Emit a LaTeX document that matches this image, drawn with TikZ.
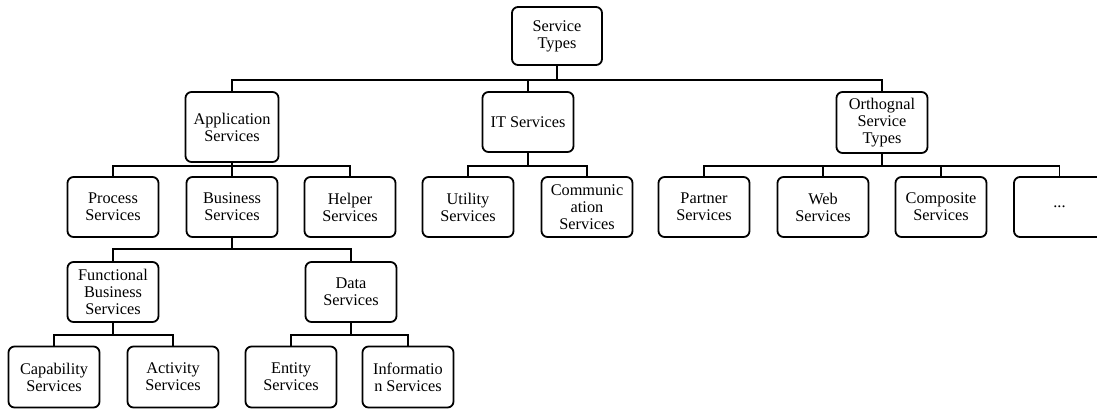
\documentclass[tikz,border=0pt]{standalone}
\usepackage{fontspec}
\setmainfont{Liberation Serif}
\usetikzlibrary{calc}
\tikzset{
         svcbox/.style=
          {
           draw=black,
           line width=1.8pt,
           rounded corners=6pt,
           minimum width=91pt,
           minimum height=60pt,
           inner sep=0pt,
           align=center,
           font=\fontsize{16.3}{17}\selectfont
          },
         wire/.style={line width=1.8pt}
        }

\begin{document}
\begin{tikzpicture}[x=1pt,y=-1pt]
      \useasboundingbox (0,0) rectangle (1097,410); % page size
      \coordinate (b0) at (0,80);  % bus under root
      \coordinate (b1) at (0,166); % bus under second row
      \coordinate (b2) at (0,249); % bus under business services
      \coordinate (b3) at (0,335); % bus under third row

%%% top of the tree
      \node[svcbox,minimum width=90pt,minimum height=58pt] (root) at (557,36) {Service\\Types}; % root
      \node[svcbox,minimum width=93pt,minimum height=70pt] (app) at (232,127) {Application\\Services}; % application
      \node[svcbox] (it) at (528,122) {IT Services}; % IT
      \node[svcbox,minimum height=61pt] (orth) at (882,122.5) {Orthognal\\Service\\Types}; % orthogonal

%%% second row
      \node[svcbox] (process) at (113,207) {Process\\Services};
      \node[svcbox] (business) at (232,207) {Business\\Services};
      \node[svcbox] (helper) at (350,207) {Helper\\Services};
      \node[svcbox] (utility) at (468,207) {Utility\\Services};
      \node[svcbox] (comm) at (587,207) {Communic\\ation\\Services};
      \node[svcbox] (partner) at (704,207) {Partner\\Services};
      \node[svcbox] (web) at (823,207) {Web\\Services};
      \node[svcbox] (composite) at (941,207) {Composite\\Services};
      \node[svcbox] (more) at (1059.5,207) {...};

%%% third row
      \node[svcbox] (functional) at (113,292) {Functional\\Business\\Services};
      \node[svcbox] (data) at (351,292) {Data\\Services};

%%% bottom row
      \node[svcbox,minimum height=61pt] (capability) at (54,377) {Capability\\Services};
      \node[svcbox,minimum height=61pt] (activity) at (173,377) {Activity\\Services};
      \node[svcbox,minimum height=61pt] (entity) at (291,377) {Entity\\Services};
      \node[svcbox,minimum height=61pt] (information) at (408,377) {Informatio\\n Services};

%%% Wiring
      \foreach \kid in {app,it,orth}
        \draw[wire] (root.south) -- (root.south |- b0) -| (\kid.north); % root to row 1
      \foreach \kid in {process,business,helper}
        \draw[wire] (app.south) -- (app.south |- b1) -| (\kid.north); % application
      \foreach \kid in {utility,comm}
        \draw[wire] (it.south) -- (it.south |- b1) -| (\kid.north); % IT
      \foreach \kid in {partner,web,composite,more}
        \draw[wire] (orth.south) -- (orth.south |- b1) -| (\kid.north); % orthogonal
      \foreach \kid in {functional,data}
        \draw[wire] (business.south) -- (business.south |- b2) -| (\kid.north); % business
      \foreach \kid in {capability,activity}
        \draw[wire] (functional.south) -- (functional.south |- b3) -| (\kid.north); % functional
      \foreach \kid in {entity,information}
        \draw[wire] (data.south) -- (data.south |- b3) -| (\kid.north); % data
\end{tikzpicture}
\end{document}
